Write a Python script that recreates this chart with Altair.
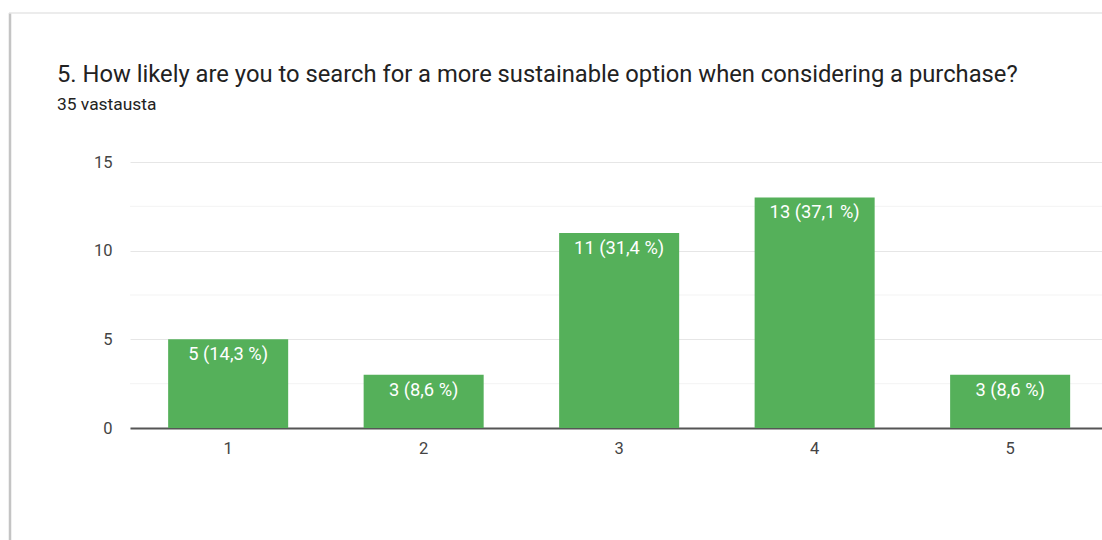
import altair as alt
import pandas as pd

categories = ["1", "2", "3", "4", "5"]
counts = [5, 3, 11, 13, 3]
bar_labels = ["5 (14,3 %)", "3 (8,6 %)", "11 (31,4 %)", "13 (37,1 %)", "3 (8,6 %)"]
major_ticks = [0, 5, 10, 15]
minor_grid = [2.5, 7.5, 12.5]
title_text = "5. How likely are you to search for a more sustainable option when considering a purchase?"
subtitle_text = "35 vastausta"

df = pd.DataFrame({"cat": categories, "n": counts, "lab": bar_labels})
grid_df = pd.DataFrame({"g": minor_grid})

FONT = "Roboto"
GREEN = "#55b05a"

xscale = alt.Scale(domain=categories, paddingInner=0.386, paddingOuter=0.179, align=0.545)
yscale = alt.Scale(domain=[0, 15], nice=False)

minor = alt.Chart(grid_df).mark_rule(color="#f3f3f3", strokeWidth=1).encode(
    y=alt.Y("g:Q", scale=yscale)
)

bars = alt.Chart(df).mark_bar(color=GREEN).encode(
    x=alt.X("cat:N", scale=xscale, sort=categories,
            axis=alt.Axis(title=None, labelAngle=0, labelFont=FONT, labelFontSize=16.5,
                          labelColor="#444444", labelPadding=12, ticks=False,
                          domainColor="#555555", domainWidth=2, grid=False)),
    y=alt.Y("n:Q", scale=yscale,
            axis=alt.Axis(title=None, values=major_ticks, labelFont=FONT, labelFontSize=16.5,
                          labelColor="#444444", labelPadding=18, ticks=False, domain=False,
                          gridColor="#e6e6e6", gridWidth=1)),
)

text = alt.Chart(df).mark_text(color="white", font=FONT, fontSize=18.3, baseline="alphabetic", dy=21).encode(
    x=alt.X("cat:N", scale=xscale, sort=categories),
    y=alt.Y("n:Q", scale=yscale),
    text="lab:N",
)

title = alt.Chart(df.head(1)).mark_text(
    text=title_text, font=FONT, fontSize=23.75, color="#222222", align="left", baseline="alphabetic"
).encode(x=alt.value(-73), y=alt.value(-80))

subtitle = alt.Chart(df.head(1)).mark_text(
    text=subtitle_text, font=FONT, fontSize=17.4, color="#222222", align="left", baseline="alphabetic"
).encode(x=alt.value(-73), y=alt.value(-52))

left_border = alt.Chart(df.head(1)).mark_rule(color="#c4c4c4", strokeWidth=2.5).encode(
    x=alt.value(-120), y=alt.value(-149), y2=alt.value(378)
)
top_border = alt.Chart(df.head(1)).mark_rule(color="#e6e6e6", strokeWidth=1.5).encode(
    x=alt.value(-121), x2=alt.value(972), y=alt.value(-149)
)

chart = alt.layer(minor, bars, text, title, subtitle, left_border, top_border).properties(
    width=972, height=266,
    padding={"left": 130, "top": 162, "right": 0, "bottom": 112},
    autosize=alt.AutoSizeParams(type="none"),
    background="white",
).configure_view(stroke=None)

chart.save("out.html", embed_options={"renderer": "svg", "actions": False})
